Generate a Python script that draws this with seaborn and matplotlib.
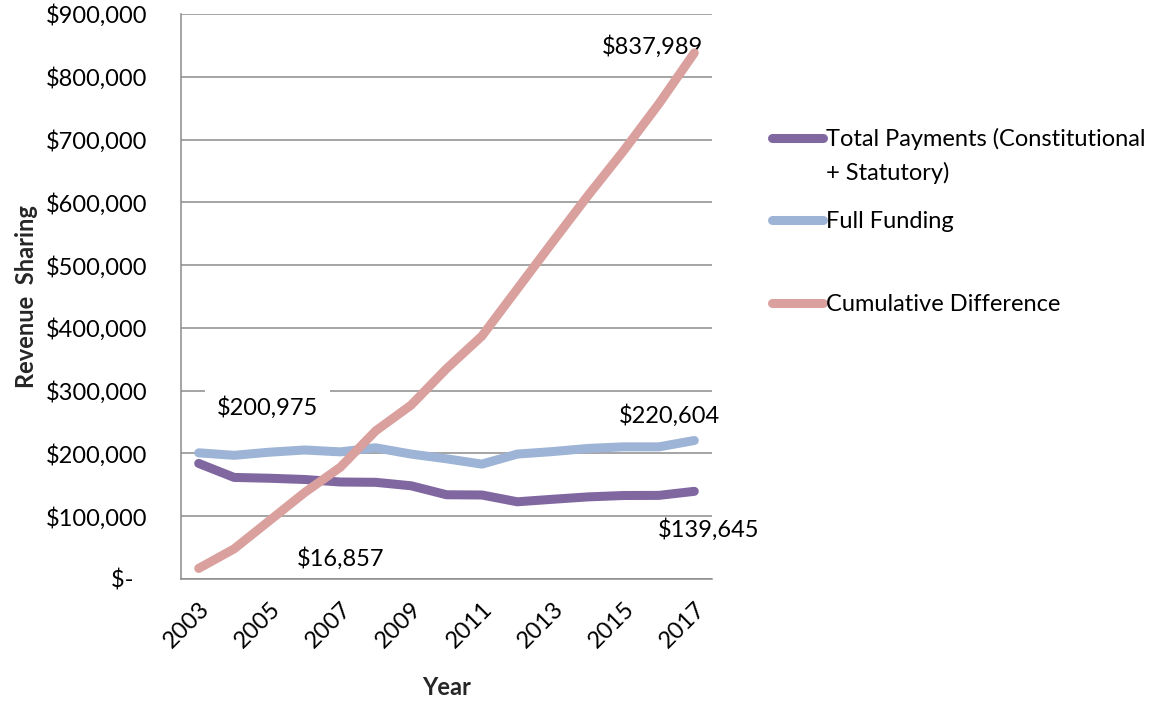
import numpy as np
import pandas as pd
import matplotlib
matplotlib.use("Agg")
import matplotlib.pyplot as plt
import seaborn as sns
from matplotlib.ticker import MultipleLocator, FuncFormatter

# ---- data -------------------------------------------------------------
years = list(range(2003, 2018))
total_payments = [184118, 161800, 160500, 158500, 154500, 154000, 148500, 134200,
                  133800, 123000, 127000, 130800, 133000, 133200, 139645]
full_funding = [200975, 197000, 202000, 205500, 202500, 209000, 199000, 191500,
                183000, 199000, 203000, 208000, 210500, 210500, 220604]
cumulative_difference = [16857, 48000, 93000, 138000, 178000, 236000, 277000, 335000,
                         387000, 462000, 537000, 611000, 682000, 757000, 837989]

series_names = ["Total Payments (Constitutional + Statutory)", "Full Funding",
                "Cumulative Difference"]
legend_labels = ["Total Payments (Constitutional", "Full Funding", "Cumulative Difference"]
legend_continuation = "+ Statutory)"
colors = ["#8067A0", "#9DB4D6", "#D9A09D"]
year_ticks = list(range(2003, 2018, 2))

df = pd.DataFrame({
    "Year": years * 3,
    "Value": total_payments + full_funding + cumulative_difference,
    "Series": sum([[n] * len(years) for n in series_names], []),
})

# ---- style ------------------------------------------------------------
sns.set_style("white")
plt.rcParams["font.family"] = ["Lato", "DejaVu Sans"]
FS = 17
GRID = "#8C8C8C"

W, H = 1170, 702
fig = plt.figure(figsize=(W / 100, H / 100), dpi=100)
ax = fig.add_axes([181 / W, 1 - 579 / H, (712 - 181) / W, (579 - 14) / H])

sns.lineplot(data=df, x="Year", y="Value", hue="Series", hue_order=series_names,
             palette=colors, linewidth=6.5, legend=False, ax=ax, estimator=None,
             sort=False, solid_capstyle="round", solid_joinstyle="round", zorder=3)

ax.set_xlim(2002.5, 2017.5)
ax.set_ylim(0, 900000)
ax.yaxis.set_major_locator(MultipleLocator(100000))
ax.yaxis.set_major_formatter(FuncFormatter(
    lambda v, p: "$-\u2007" if v == 0 else f"${v:,.0f}"))
ax.set_xticks(year_ticks)
ax.set_xticklabels([str(y) for y in year_ticks], rotation=45, ha="right",
                   rotation_mode="anchor")

ax.grid(axis="y", color=GRID, linewidth=1.1, zorder=0)
ax.grid(axis="x", visible=False)
ax.set_axisbelow(True)
for side in ["top", "right"]:
    ax.spines[side].set_visible(False)
for side in ["left", "bottom"]:
    ax.spines[side].set_color(GRID)
    ax.spines[side].set_linewidth(1.1)

ax.tick_params(axis="y", length=0, pad=24, labelsize=FS, labelcolor="black")
ax.tick_params(axis="x", length=0, pad=14, labelsize=FS, labelcolor="black")

ax.set_ylabel("Revenue  Sharing", fontsize=FS, fontweight="bold")
ax.yaxis.set_label_coords(-0.27, 0.5)
ax.set_xlabel("Year", fontsize=FS, fontweight="bold", va="top")
ax.xaxis.set_label_coords(0.5, -0.172)

# ---- data labels ------------------------------------------------------
def money(v):
    return f"${v:,.0f}"

# (x, value, pixel offset, opaque background)
labels = [
    (years[0], full_funding[0], (69, 45), True),
    (years[0], cumulative_difference[0], (142, 10), False),
    (years[-1], full_funding[-1], (-25, 25), False),
    (years[-1], total_payments[-1], (14, -38), False),
    (years[-1], cumulative_difference[-1], (-42, 6), False),
]
for x, v, off, boxed in labels:
    box = dict(boxstyle="square,pad=0.5", fc="white", ec="none") if boxed else None
    ax.annotate(money(v), xy=(x, v), xytext=off, textcoords="offset pixels",
                ha="center", va="center", fontsize=FS, color="black",
                annotation_clip=False, zorder=2.5, bbox=box)

# ---- legend -----------------------------------------------------------
handles = ax.get_lines()[:3]
leg = fig.legend(handles, legend_labels, loc="upper left",
                 bbox_to_anchor=(772 / W, 1 - 128 / H), frameon=False,
                 fontsize=FS, handlelength=2.15, handletextpad=0.15,
                 labelspacing=2.6, borderpad=0, borderaxespad=0)
for t in leg.get_texts():
    t.set_color("black")

fig.canvas.draw()
bb = leg.get_texts()[0].get_window_extent()
fig.text(bb.x0 / W, (bb.y0 - 34) / H, legend_continuation, fontsize=FS,
         ha="left", va="bottom", color="black")

fig.savefig("out.png", dpi=100)
